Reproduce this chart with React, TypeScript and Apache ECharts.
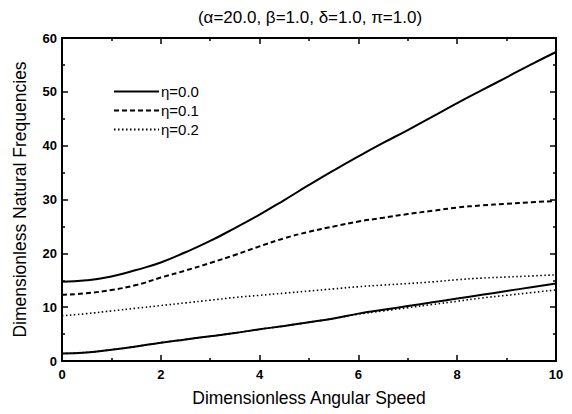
import React, { useEffect, useRef } from "react";
import * as echarts from "echarts";

const xs = [0, 0.5, 1, 1.5, 2, 2.5, 3, 3.5, 4, 4.5, 5, 5.5, 6, 6.5, 7, 7.5, 8, 8.5, 9, 9.5, 10];
const solidUpper = [14.7, 15.0, 15.7, 16.9, 18.3, 20.2, 22.3, 24.7, 27.2, 29.9, 32.7, 35.4, 38.0, 40.5, 42.9, 45.4, 47.9, 50.3, 52.7, 55.1, 57.4];
const solidLower = [1.4, 1.6, 2.1, 2.7, 3.4, 4.0, 4.6, 5.2, 5.9, 6.5, 7.2, 7.9, 8.8, 9.5, 10.2, 10.9, 11.6, 12.3, 13.0, 13.7, 14.4];
const dashed = [12.3, 12.6, 13.2, 14.1, 15.5, 16.8, 18.2, 19.7, 21.3, 22.8, 24.0, 25.0, 25.9, 26.6, 27.3, 27.9, 28.5, 28.9, 29.2, 29.5, 29.7];
const dottedUpper = [8.4, 8.8, 9.3, 9.8, 10.3, 10.8, 11.3, 11.8, 12.2, 12.6, 13.0, 13.4, 13.8, 14.1, 14.4, 14.7, 15.1, 15.4, 15.6, 15.8, 16.0];
const dottedLower = [1.4, 1.6, 2.1, 2.7, 3.4, 4.0, 4.6, 5.2, 5.9, 6.5, 7.2, 7.9, 8.7, 9.3, 9.9, 10.5, 11.1, 11.7, 12.2, 12.7, 13.2];
const legendNames = ["η=0.0", "η=0.1", "η=0.2"];
const titleText = "(α=20.0, β=1.0, δ=1.0, π=1.0)";
const xName = "Dimensionless Angular Speed";
const yName = "Dimensionless Natural Frequencies";

const FONT = "'Liberation Sans', Arial, sans-serif";

function pairs(ys: number[]) {
  return xs.map((x, i) => [x, ys[i]]);
}

export default function App() {
  const ref = useRef<HTMLDivElement>(null);
  useEffect(() => {
    if (!ref.current) return;
    const chart = echarts.init(ref.current, null, { renderer: "svg" });
    const tickStyle = { color: "#000", width: 1.5 };
    const mkAxis = (extra: any) => ({
      axisLine: { show: true, onZero: false, lineStyle: { color: "#000", width: 2 } },
      splitLine: { show: false },
      axisTick: { show: true, inside: true, length: 6, lineStyle: tickStyle },
      minorTick: { show: true, splitNumber: 2, length: 3, lineStyle: tickStyle },
      ...extra,
    });
    const mkLine = (name: string, data: number[], type: any, width: number) => ({
      type: "line",
      name,
      data: pairs(data),
      smooth: true,
      showSymbol: false,
      symbol: "none",
      lineStyle: { color: "#000", width, type },
      itemStyle: { color: "#000" },
      xAxisIndex: 0,
      yAxisIndex: 0,
    });
    chart.setOption({
      animation: false,
      backgroundColor: "#fff",
      title: {
        text: titleText,
        left: 305,
        textAlign: "center",
        top: 4,
        textStyle: { fontFamily: FONT, fontSize: 17, fontWeight: "normal", color: "#000" },
      },
      legend: {
        data: legendNames,
        orient: "vertical",
        left: 108,
        top: 79,
        itemWidth: 45,
        itemHeight: 10,
        itemGap: 4,
        itemStyle: { color: "rgba(0,0,0,0)", borderColor: "rgba(0,0,0,0)", borderWidth: 0 },
        textStyle: { fontFamily: FONT, fontSize: 15, color: "#000", padding: [0, 0, 0, -3] },
      },
      grid: { left: 62, right: 16, top: 38, bottom: 53, show: true, borderColor: "#000", borderWidth: 2, backgroundColor: "transparent" },
      xAxis: [
        mkAxis({
          type: "value",
          min: 0,
          max: 10,
          interval: 2,
          position: "bottom",
          axisLabel: { fontFamily: FONT, fontSize: 13, fontWeight: "bold", color: "#000", margin: 7 },
          name: xName,
          nameLocation: "middle",
          nameGap: 28,
          nameTextStyle: { fontFamily: FONT, fontSize: 17.5, color: "#000" },
        }),
        mkAxis({
          type: "value",
          min: 0,
          max: 10,
          interval: 2,
          position: "top",
          axisLabel: { show: false },
        }),
      ],
      yAxis: [
        mkAxis({
          type: "value",
          min: 0,
          max: 60,
          interval: 10,
          position: "left",
          axisLabel: { fontFamily: FONT, fontSize: 13, fontWeight: "bold", color: "#000", margin: 5 },
          name: yName,
          nameLocation: "middle",
          nameGap: 33,
          nameTextStyle: { fontFamily: FONT, fontSize: 17.5, color: "#000" },
        }),
        mkAxis({
          type: "value",
          min: 0,
          max: 60,
          interval: 10,
          position: "right",
          axisLabel: { show: false },
        }),
      ],
      series: [
        mkLine(legendNames[0], solidUpper, "solid", 2),
        mkLine(legendNames[1], dashed, [5, 3], 2),
        mkLine(legendNames[2], dottedUpper, [1.5, 2.5], 1.6),
        mkLine(legendNames[0], solidLower, "solid", 2),
        mkLine(legendNames[2], dottedLower, [1.5, 2.5], 1.6),
      ],
    });
    return () => chart.dispose();
  }, []);
  return <div ref={ref} style={{ width: 572, height: 414, position: "absolute", left: 0, top: 0 }} />;
}
